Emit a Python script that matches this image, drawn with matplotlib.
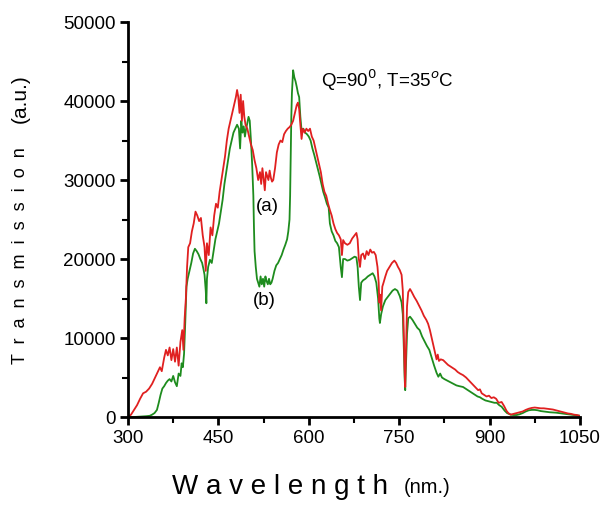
import numpy as np
import matplotlib.pyplot as plt
from matplotlib.ticker import MultipleLocator

plt.rcParams['font.family'] = ['Liberation Sans', 'DejaVu Sans']

# curve (a) - red
wl_a = [300, 305, 310, 315, 320, 325, 330, 335, 340, 345, 350, 353, 356, 360, 363, 366, 369, 372, 375, 378,
        381, 384, 387, 390, 392, 394, 396, 398, 400, 403, 406, 409, 412, 415, 418, 421, 424, 427, 429, 431,
        434, 437, 440, 443, 446, 449, 452, 455, 458, 461, 464, 467, 470, 473, 476, 479, 481, 483, 485, 487,
        489, 491, 493, 495, 498, 501, 504, 507, 510, 513, 516, 519, 521, 523, 525, 527, 529, 531, 533, 535,
        537, 539, 541, 544, 547, 550, 553, 556, 559, 562, 565, 568, 571, 574, 577, 580, 582, 584, 586, 588,
        590, 593, 596, 599, 602, 605, 608, 611, 614, 617, 620, 623, 626, 629, 632, 635, 638, 641, 644, 647,
        650, 653, 655, 657, 660, 664, 668, 672, 676, 679, 681, 683, 685, 687, 690, 693, 696, 699, 702, 705,
        708, 711, 714, 716, 717, 718, 720, 722, 724, 727, 730, 734, 738, 742, 745, 748, 751, 754, 756, 757,
        758, 759, 760, 761, 763, 765, 768, 771, 775, 779, 783, 787, 791, 795, 798, 801, 804, 807, 810, 812,
        814, 816, 819, 823, 827, 831, 835, 839, 843, 847, 851, 856, 861, 866, 871, 876, 881, 884, 887, 891,
        895, 899, 903, 907, 911, 915, 920, 924, 928, 931, 935, 940, 945, 950, 955, 960, 965, 970, 975, 980,
        985, 990, 995, 1000, 1005, 1010, 1015, 1020, 1025, 1030, 1035, 1040, 1045, 1050]
tr_a = [0, 300, 900, 1500, 2300, 3000, 3200, 3600, 4200, 5000, 5800, 6300, 5800, 7500, 8500, 7800, 8800, 7200, 8600, 7000,
        8800, 6500, 9500, 11000, 8500, 12500, 15000, 19000, 21500, 22000, 23500, 24500, 26000, 25500, 24800, 25200, 23000, 21500, 18500, 22000,
        20500, 24000, 23000, 25500, 27000, 26500, 28500, 30000, 31500, 33000, 35000, 36500, 37500, 38500, 39500, 40500, 41400, 40500, 38500, 40800,
        37500, 40000, 38000, 37000, 36500, 35500, 34500, 33800, 32500, 31500, 30000, 31000, 29500, 31500, 30200, 28700, 31000, 30500, 30000, 31200,
        30300, 29800, 30000, 31500, 33500, 34500, 35000, 34800, 35800, 36200, 36500, 36700, 37000, 37500, 38500, 39500, 39800, 39000, 37000, 35200,
        36500, 36000, 36500, 36200, 36500, 35500, 35000, 34000, 33000, 32000, 31000, 29500, 28500, 28000, 27000, 26200, 25500, 24500, 23800, 23300,
        23000, 22500, 20500, 22400, 22000, 21800, 22000, 22600, 23000, 23300, 22500, 20000, 19000, 20500, 20700, 20000, 21000, 20500, 21200, 20800,
        20900, 20500, 19000, 17000, 14500, 15500, 13500, 16500, 17000, 17800, 18500, 19000, 19500, 19800, 19500, 19000, 18600, 18000, 16000, 12500,
        9000, 6000, 3800, 7500, 14000, 15800, 16200, 15800, 15200, 14700, 14100, 13500, 12800, 12300, 11800, 11000, 10000, 9000, 8000, 7300,
        7900, 7100, 7300, 7200, 6900, 6600, 6400, 6200, 6000, 5700, 5500, 5300, 5000, 4600, 4200, 3800, 3400, 3500, 3000, 2800,
        2600, 2700, 2400, 2500, 2300, 1800, 1900, 1400, 800, 500, 300, 400, 500, 600, 700, 900, 1050, 1150, 1200, 1150,
        1100, 1100, 1050, 1000, 950, 850, 750, 650, 550, 450, 400, 300, 250, 150]

# curve (b) - green
wl_b = [300, 310, 320, 330, 336, 340, 344, 348, 351, 354, 357, 360, 363, 366, 369, 372, 375, 378, 381, 384,
        387, 389, 391, 393, 395, 397, 399, 402, 405, 408, 411, 414, 417, 420, 423, 425, 427, 429, 430, 431,
        433, 436, 439, 442, 445, 448, 451, 454, 457, 460, 463, 466, 469, 472, 475, 478, 481, 484, 486, 488,
        490, 492, 494, 496, 498, 500, 502, 504, 506, 508, 509, 510, 512, 514, 516, 518, 520, 522, 524, 526,
        528, 530, 532, 534, 536, 538, 540, 543, 546, 549, 552, 555, 558, 561, 564, 566, 568, 569, 570, 571,
        572, 574, 576, 578, 580, 582, 584, 586, 588, 591, 594, 597, 600, 603, 606, 609, 612, 615, 618, 621,
        624, 627, 630, 633, 635, 638, 641, 644, 647, 650, 653, 655, 657, 660, 664, 668, 672, 676, 679, 681,
        683, 685, 687, 690, 694, 698, 702, 706, 709, 712, 715, 717, 718, 720, 723, 727, 731, 735, 739, 743,
        747, 751, 754, 756, 758, 759, 760, 761, 763, 765, 768, 772, 776, 780, 784, 788, 792, 796, 800, 804,
        808, 812, 815, 818, 821, 825, 830, 835, 840, 845, 850, 856, 862, 868, 874, 880, 884, 888, 893, 898,
        903, 908, 912, 916, 920, 925, 929, 935, 940, 945, 950, 955, 960, 965, 970, 975, 980, 985, 990, 995,
        1000, 1010, 1020, 1030, 1040, 1050]
tr_b = [0, 0, 50, 100, 150, 300, 500, 900, 1800, 2800, 3600, 3900, 4300, 4600, 4800, 4500, 5200, 4400, 3900, 5500,
        5200, 6800, 6300, 8000, 12000, 16500, 17500, 18500, 19500, 20700, 21300, 21000, 20600, 20000, 19500, 18800, 18000, 16000, 14400, 17500,
        19000, 19900, 19500, 21000, 22500, 23500, 24500, 26000, 27500, 29500, 31000, 32500, 34000, 35000, 36000, 36500, 37000, 36500, 34000, 37500,
        36000, 36800, 35500, 36500, 37200, 38000, 37500, 35000, 32000, 28000, 24000, 21000, 19000, 17500, 17000, 16500, 17800, 16800, 17500, 16500,
        17800, 17200, 16800, 17500, 16800, 17000, 17500, 18500, 19200, 19500, 20000, 20500, 21200, 21800, 22500, 23500, 25000, 28000, 33000, 38000,
        41000, 43900, 43000, 42500, 41800, 41000, 40500, 38000, 36300, 36500, 36000, 35800, 35500, 35000, 34000, 33200, 32300, 31400, 30500, 29500,
        28500, 27800, 27000, 26500, 24500, 23500, 23000, 22300, 22000, 21500, 19000, 17700, 20000, 20000, 19800, 19900, 20100, 20300, 20200, 19000,
        16500, 14800, 17000, 17300, 17500, 17800, 18000, 18200, 17800, 17000, 15000, 12500, 11900, 13000, 14000, 14800, 15200, 15600, 16000, 16200,
        16000, 15300, 14500, 13000, 8000, 5000, 3400, 6000, 10500, 12500, 12700, 12300, 11800, 11300, 11000, 10200, 9600, 9000, 8500, 7500,
        6500, 5600, 5100, 5500, 5000, 4800, 4600, 4400, 4200, 4000, 3900, 3800, 3500, 3200, 2900, 2600, 2500, 2300, 2100, 2000,
        1900, 1800, 1800, 1500, 1300, 800, 500, 300, 250, 250, 350, 500, 700, 850, 900, 900, 850, 750, 700, 650,
        600, 550, 450, 350, 250, 150]

xticks = [300, 450, 600, 750, 900, 1050]
yticks = [0, 10000, 20000, 30000, 40000, 50000]

fig = plt.figure(figsize=(6.01, 5.07), dpi=100)
ax = fig.add_axes([0.213, 0.1775, 0.752, 0.779])

ax.plot(wl_b, tr_b, color='#1e8c1e', lw=1.3)
ax.plot(wl_a, tr_a, color='#e02020', lw=1.3)

ax.set_xlim(300, 1050)
ax.set_ylim(0, 50000)
ax.set_xticks(xticks)
ax.set_yticks(yticks)
ax.xaxis.set_minor_locator(MultipleLocator(75))
ax.yaxis.set_minor_locator(MultipleLocator(5000))
for s in ['top', 'right']:
    ax.spines[s].set_visible(False)
for s in ['left', 'bottom']:
    ax.spines[s].set_linewidth(2)
ax.tick_params(which='major', direction='out', length=6, width=2, labelsize=13.5, pad=3)
ax.tick_params(which='minor', direction='out', length=4, width=1.5)

ax.text(621, 42600, 'Q=90$^0$, T=35$^o$C', fontsize=13.5, va='center')
ax.text(532, 26600, '(a)', fontsize=13.5, ha='center', va='center')
ax.text(527, 14800, '(b)', fontsize=13.5, ha='center', va='center')

fig.text(0.646, 0.040, 'W a v e l e n g t h', fontsize=20, ha='right', va='center')
fig.text(0.672, 0.038, '(nm.)', fontsize=14.5, ha='left', va='center')
fig.text(0.034, 0.496, 'T  r  a  n  s  m  i  s  s  i  o  n', fontsize=13, rotation=90, ha='center', va='center')
fig.text(0.034, 0.806, '(a.u.)', fontsize=15, rotation=90, ha='center', va='center')

fig.savefig('out.png', dpi=100)
